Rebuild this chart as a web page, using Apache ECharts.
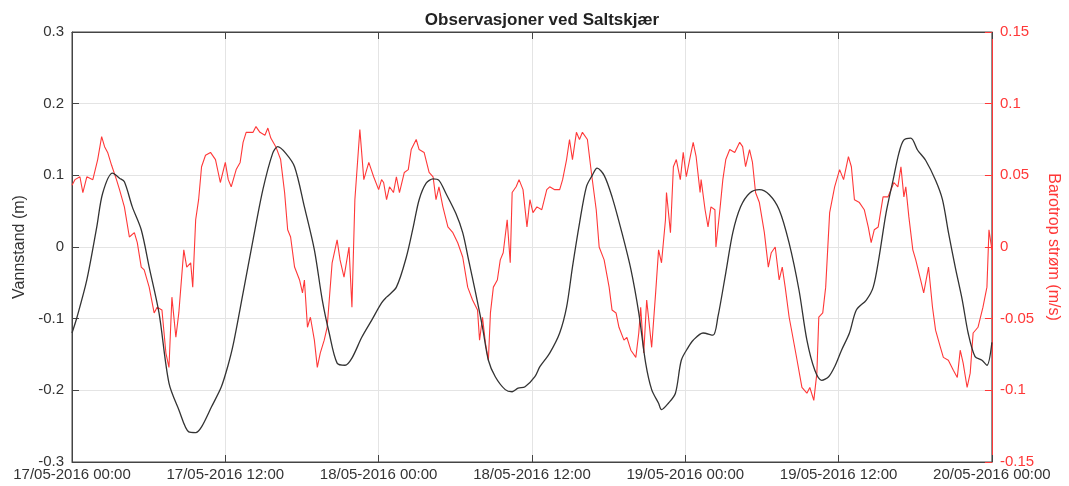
<!DOCTYPE html>
<html>
<head>
<meta charset="utf-8">
<title>Observasjoner ved Saltskjær</title>
<script src="https://cdn.jsdelivr.net/npm/echarts@6/dist/echarts.min.js"></script>
<style>
  html, body { margin: 0; padding: 0; background: #fff; }
  #chart { width: 1069px; height: 486px; }
</style>
</head>
<body>
<div id="chart"></div>
<script>
// x tick labels (every 12 hours from 17/05-2016 00:00)
const timeLabels = ['17/05-2016 00:00', '17/05-2016 12:00', '18/05-2016 00:00', '18/05-2016 12:00',
  '19/05-2016 00:00', '19/05-2016 12:00', '20/05-2016 00:00']

// Vannstand (m), hours since start
const levelHours = [0, 0.39, 1.16, 1.94, 2.4, 3.17, 3.72, 4.1, 4.72, 5.42, 6.04, 6.81, 7.59, 8.36, 9.14, 9.68,
  10.14, 10.92, 11.69, 12.2, 12.62, 13.39, 14.17, 14.94, 15.71, 16.1, 16.72, 17.42, 18.19, 18.97, 19.59,
  20.13, 20.75, 21.37, 21.91, 22.68, 23.46, 24.23, 24.62, 25.39, 26.17, 26.71, 27.17, 27.72, 28.26, 28.72,
  29.26, 30.04, 30.58, 31.04, 31.59, 32.13, 32.59, 33.13, 33.91, 34.45, 34.92, 35.46, 36.23, 36.62, 37.39,
  38.17, 38.71, 39.17, 39.72, 40.26, 40.72, 41.1, 41.65, 42.27, 43.04, 43.74, 44.36, 44.9, 45.37, 45.91,
  46.14, 46.68, 47.23, 47.69, 48.23, 48.62, 49.39, 50.17, 50.55, 51.17, 51.72, 52.33, 53.03, 53.8, 54.58,
  55.35, 56.12, 56.9, 57.52, 58.14, 58.68, 59.22, 59.69, 60.23, 60.85, 61.39, 62.17, 62.71, 63.17, 63.71,
  64.26, 64.72, 65.1, 65.65, 66.19, 66.81, 67.59, 68.13, 68.6, 69.13, 69.68, 70.14, 70.68, 71.22, 71.61, 72]
const levelValues = [-0.120, -0.098, -0.046, 0.028, 0.075, 0.103, 0.096, 0.091, 0.056, 0.024, -0.028, -0.092,
  -0.190, -0.227, -0.258, -0.259, -0.251, -0.223, -0.195, -0.166, -0.136, -0.064, 0.010, 0.080, 0.131, 0.140,
  0.131, 0.112, 0.056, -0.004, -0.074, -0.120, -0.162, -0.165, -0.155, -0.126, -0.102, -0.078, -0.070, -0.056,
  -0.014, 0.028, 0.066, 0.089, 0.095, 0.093, 0.075, 0.047, 0.020, -0.018, -0.064, -0.112, -0.158, -0.181,
  -0.199, -0.202, -0.197, -0.195, -0.181, -0.167, -0.148, -0.120, -0.084, -0.028, 0.033, 0.084, 0.100, 0.110,
  0.100, 0.070, 0.020, -0.031, -0.092, -0.162, -0.199, -0.218, -0.227, -0.218, -0.204, -0.158, -0.140, -0.130,
  -0.120, -0.123, -0.098, -0.036, 0.020, 0.056, 0.075, 0.080, 0.073, 0.052, 0.006, -0.060, -0.130, -0.172,
  -0.186, -0.181, -0.167, -0.144, -0.120, -0.088, -0.074, -0.056, -0.014, 0.047, 0.093, 0.131, 0.149, 0.152,
  0.135, 0.121, 0.093, 0.066, 0.020, -0.028, -0.074, -0.120, -0.153, -0.158, -0.165, -0.133]

// Barotrop strøm (m/s), hours since start
const currentHours = [0, 0.23, 0.62, 0.85, 1.16, 1.63, 2.01, 2.32, 2.55, 2.79, 3.1, 3.48, 3.72, 4.1, 4.49, 4.88,
  5.11, 5.42, 5.65, 6.04, 6.43, 6.66, 7.04, 7.35, 7.59, 7.82, 8.13, 8.36, 8.75, 8.98, 9.29, 9.45, 9.68, 9.91,
  10.14, 10.45, 10.84, 11.23, 11.61, 12.0, 12.23, 12.46, 12.85, 13.16, 13.39, 13.63, 14.17, 14.4, 14.71, 15.1,
  15.33, 15.56, 15.95, 16.33, 16.64, 16.88, 17.11, 17.42, 17.81, 18.04, 18.19, 18.43, 18.66, 18.97, 19.2,
  19.43, 19.74, 19.97, 20.36, 20.75, 20.98, 21.29, 21.68, 21.91, 22.14, 22.53, 22.84, 23.23, 23.61, 24.0,
  24.23, 24.39, 24.62, 24.85, 25.16, 25.39, 25.63, 26.01, 26.32, 26.55, 26.94, 27.17, 27.56, 27.95, 28.26,
  28.49, 28.72, 29.03, 29.42, 29.81, 30.19, 30.58, 30.97, 31.35, 31.74, 31.9, 32.13, 32.36, 32.59, 32.75,
  32.98, 33.29, 33.52, 33.75, 34.06, 34.3, 34.45, 34.76, 34.99, 35.3, 35.61, 35.84, 36.08, 36.39, 36.77,
  37.16, 37.39, 37.78, 38.17, 38.4, 38.71, 38.94, 39.17, 39.48, 39.72, 39.95, 40.34, 40.65, 41.03, 41.26,
  41.65, 42.04, 42.27, 42.58, 42.81, 43.2, 43.43, 43.74, 44.13, 44.36, 44.51, 44.75, 44.98, 45.37, 45.68,
  45.91, 46.14, 46.45, 46.53, 46.84, 47.07, 47.3, 47.61, 47.84, 48.08, 48.39, 48.62, 48.85, 49.16, 49.24,
  49.55, 49.78, 50.01, 50.32, 50.4, 50.71, 50.94, 51.17, 51.48, 51.87, 52.26, 52.49, 52.72, 53.03, 53.26,
  53.5, 53.8, 54.19, 54.5, 54.73, 55.04, 55.35, 55.59, 55.82, 56.13, 56.36, 56.75, 57.13, 57.52, 57.75,
  58.06, 58.3, 58.45, 58.76, 58.99, 59.3, 59.69, 60.08, 60.39, 60.77, 61.0, 61.24, 61.63, 62.01, 62.32,
  62.55, 62.79, 63.1, 63.48, 63.87, 64.1, 64.33, 64.64, 64.88, 65.11, 65.26, 65.5, 65.81, 66.04, 66.42,
  66.66, 67.04, 67.35, 67.59, 67.97, 68.2, 68.59, 68.98, 69.29, 69.52, 69.75, 70.06, 70.3, 70.53, 70.91,
  71.3, 71.61, 71.77, 72]
const currentValues = [0.043, 0.047, 0.049, 0.038, 0.049, 0.047, 0.061, 0.077, 0.070, 0.066, 0.057, 0.047,
  0.040, 0.028, 0.007, 0.010, 0.003, -0.014, -0.016, -0.028, -0.046, -0.042, -0.044, -0.074, -0.084, -0.035,
  -0.063, -0.046, -0.002, -0.014, -0.011, -0.028, 0.019, 0.033, 0.056, 0.064, 0.066, 0.061, 0.045, 0.059,
  0.047, 0.042, 0.054, 0.059, 0.073, 0.080, 0.080, 0.084, 0.080, 0.078, 0.083, 0.076, 0.070, 0.061, 0.038,
  0.012, 0.007, -0.014, -0.023, -0.032, -0.023, -0.056, -0.049, -0.065, -0.084, -0.074, -0.065, -0.056,
  -0.011, 0.005, -0.009, -0.021, 0.000, -0.042, 0.033, 0.082, 0.047, 0.059, 0.049, 0.040, 0.047, 0.045,
  0.033, 0.042, 0.038, 0.049, 0.038, 0.052, 0.054, 0.068, 0.075, 0.068, 0.066, 0.052, 0.049, 0.033, 0.042,
  0.028, 0.014, 0.010, 0.003, -0.007, -0.028, -0.037, -0.044, -0.065, -0.049, -0.067, -0.079, -0.046, -0.028,
  -0.023, -0.009, -0.004, 0.019, -0.011, 0.038, 0.042, 0.047, 0.040, 0.014, 0.033, 0.024, 0.028, 0.026,
  0.040, 0.042, 0.040, 0.040, 0.047, 0.061, 0.075, 0.061, 0.080, 0.075, 0.080, 0.075, 0.052, 0.026, 0.000,
  -0.009, -0.028, -0.044, -0.046, -0.056, -0.065, -0.063, -0.072, -0.077, -0.060, -0.042, -0.074, -0.037,
  -0.070, -0.032, -0.002, -0.011, 0.019, 0.038, 0.010, 0.056, 0.061, 0.047, 0.066, 0.049, 0.063, 0.073,
  0.063, 0.038, 0.047, 0.026, 0.014, 0.028, 0.026, 0.000, 0.026, 0.047, 0.061, 0.068, 0.066, 0.073, 0.070,
  0.056, 0.068, 0.059, 0.038, 0.031, 0.010, -0.014, -0.004, 0.000, -0.023, -0.014, -0.028, -0.049, -0.060,
  -0.079, -0.098, -0.102, -0.098, -0.107, -0.088, -0.049, -0.046, -0.028, 0.024, 0.042, 0.054, 0.047, 0.063,
  0.056, 0.033, 0.031, 0.026, 0.014, 0.003, 0.012, 0.014, 0.035, 0.035, 0.040, 0.045, 0.042, 0.056, 0.035,
  0.042, 0.021, -0.002, -0.009, -0.023, -0.032, -0.014, -0.042, -0.058, -0.070, -0.077, -0.079, -0.086,
  -0.091, -0.072, -0.081, -0.098, -0.088, -0.060, -0.056, -0.042, -0.028, 0.012, -0.002]

const levelData = levelHours.map((h, i) => [h, levelValues[i]])
const currentData = currentHours.map((h, i) => [h, currentValues[i]])

const axisColor = '#444'
const textColor = '#333'
const red = '#ff3838'
const gridColor = '#e4e4e4'
const font = 'Liberation Sans, Arial, sans-serif'

const chart = echarts.init(document.getElementById('chart'))

chart.setOption({
  animation: false,
  title: {
    text: 'Observasjoner ved Saltskjær',
    left: 537,
    textAlign: 'center',
    top: 7,
    textStyle: { fontFamily: font, fontSize: 17, fontWeight: 'bold', color: '#222' }
  },
  grid: {
    left: 72,
    right: 67,
    top: 32,
    bottom: 24,
    show: true,
    borderColor: axisColor,
    borderWidth: 1
  },
  xAxis: [{
    type: 'value',
    min: 0,
    max: 72,
    interval: 12,
    axisLine: { show: true, onZero: false, lineStyle: { color: axisColor } },
    axisTick: { show: true, inside: true, length: 7, lineStyle: { color: axisColor } },
    axisLabel: {
      color: textColor,
      fontFamily: font,
      fontSize: 15,
      margin: 5,
      formatter: v => timeLabels[Math.round(v / 12)]
    },
    splitLine: { show: true, lineStyle: { color: gridColor } }
  }, {
    type: 'value',
    position: 'top',
    min: 0,
    max: 72,
    interval: 12,
    axisLine: { show: true, onZero: false, lineStyle: { color: axisColor } },
    axisTick: { show: true, inside: true, length: 7, lineStyle: { color: axisColor } },
    axisLabel: { show: false },
    splitLine: { show: false }
  }],
  yAxis: [{
    type: 'value',
    min: -0.3,
    max: 0.3,
    interval: 0.1,
    name: 'Vannstand (m)',
    nameLocation: 'middle',
    nameGap: 40,
    nameTextStyle: { color: textColor, fontFamily: font, fontSize: 16 },
    axisLine: { show: true, onZero: false, lineStyle: { color: axisColor } },
    axisTick: { show: true, inside: true, length: 7, lineStyle: { color: axisColor } },
    axisLabel: {
      color: textColor,
      fontFamily: font,
      fontSize: 15,
      margin: 8,
      formatter: v => String(Math.round(v * 10) / 10)
    },
    splitLine: { show: true, lineStyle: { color: gridColor } }
  }, {
    type: 'value',
    position: 'right',
    min: -0.15,
    max: 0.15,
    interval: 0.05,
    name: 'Barotrop strøm (m/s)',
    nameLocation: 'middle',
    nameRotate: -90,
    nameGap: 42,
    nameTextStyle: { color: red, fontFamily: font, fontSize: 16 },
    axisLine: { show: true, onZero: false, lineStyle: { color: red } },
    axisTick: { show: true, inside: true, length: 7, lineStyle: { color: red } },
    axisLabel: {
      color: red,
      fontFamily: font,
      fontSize: 15,
      margin: 8,
      formatter: v => String(Math.round(v * 100) / 100)
    },
    splitLine: { show: false }
  }],
  series: [{
    name: 'Vannstand',
    type: 'line',
    xAxisIndex: 0,
    yAxisIndex: 0,
    data: levelData,
    showSymbol: false,
    smooth: 0.3,
    lineStyle: { color: '#333', width: 1.3 },
    z: 3
  }, {
    name: 'Barotrop strøm',
    type: 'line',
    xAxisIndex: 0,
    yAxisIndex: 1,
    data: currentData,
    showSymbol: false,
    lineStyle: { color: red, width: 1.1 },
    z: 2
  }]
})
</script>
</body>
</html>
